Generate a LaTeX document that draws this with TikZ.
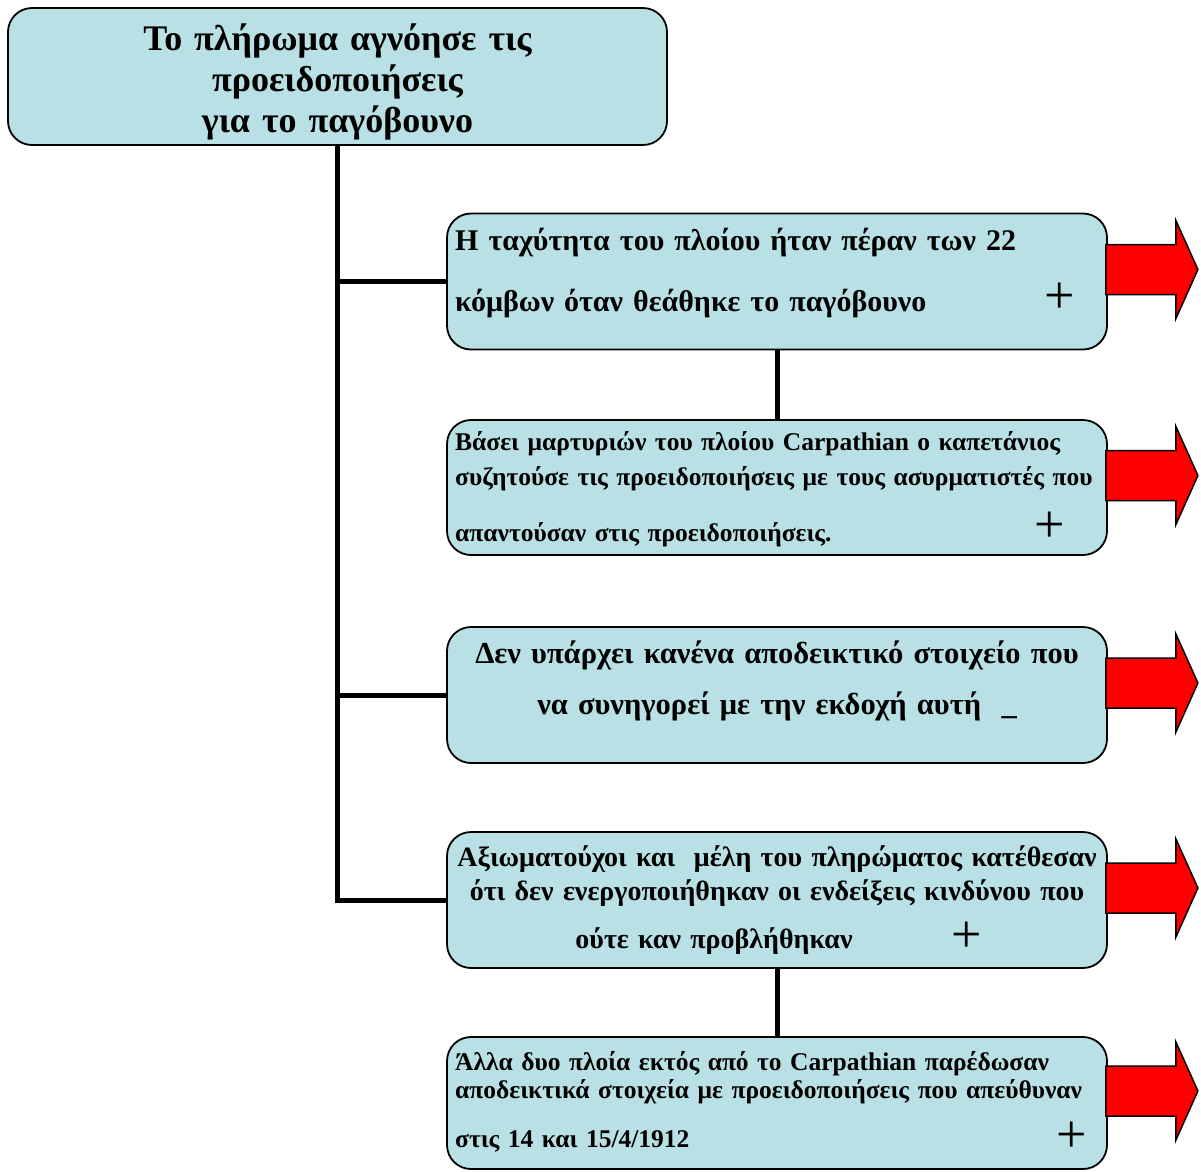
\documentclass[tikz,border=0pt]{standalone}
\usepackage{fontspec}
\setmainfont{Liberation Serif}
\usetikzlibrary{calc}
\definecolor{boxblue}{RGB}{185,224,228}

\begin{document}
\begin{tikzpicture}[x=1pt,y=-1pt,
  box/.style={draw,line width=1.8pt,rounded corners=24pt,fill=boxblue,
    minimum width=660pt,minimum height=136pt,inner sep=0pt},
  branch/.style={line width=5pt,line join=miter},
  txt/.style={inner sep=0pt,anchor=base west,text width=660pt,align=left},
  ctxt/.style={inner sep=0pt,anchor=base,text width=660pt,align=center},
  sign/.style={inner sep=0pt,font=\fontsize{54}{54}\selectfont},
  redarrow/.style={draw,fill=red,line width=1.5pt,line join=miter}]
\useasboundingbox (0,0) rectangle (1201,1171);

% boxes
\node[box,minimum width=659pt,minimum height=137pt] (top) at (337.5,76.5) {};
\node[box] (b1) at (777,281.5) {};
\node[box,minimum height=135pt] (b2) at (777,487.5) {};
\node[box] (b3) at (777,695) {};
\node[box] (b4) at (777,900) {};
\node[box,minimum height=132pt] (b5) at (777,1103) {};

% connectors
\draw[branch] (top.south) |- (b4.west);
\draw[branch] (top.south |- b1.west) -- (b1.west);
\draw[branch] (top.south |- b3.west) -- (b3.west);
\draw[branch] (b1.south) -- (b2.north);
\draw[branch] (b4.south) -- (b5.north);

% red arrows
\foreach \b in {b1,b2,b3,b4,b5}
  \draw[redarrow] ($(\b.east)+(-2,-37)$) -- ++(70,0) -- ++(0,-24)
    -- ++(22,49) -- ++(-22,49) -- ++(0,-24) -- ++(-70,0) -- cycle;

% texts
\node[ctxt,font=\bfseries\fontsize{36}{41}\selectfont] (tt) at (337.5,50)
  {Το πλήρωμα αγνόησε τις\\προειδοποιήσεις\\για το παγόβουνο};
\node[txt,font=\bfseries\fontsize{30}{34}\selectfont] (t1) at (455,250)
  {Η ταχύτητα του πλοίου ήταν πέραν των 22\\[27pt]κόμβων όταν θεάθηκε το παγόβουνο};
\node[sign] (s1) at (1060,298) {+};
\node[txt,font=\bfseries\fontsize{25.5}{35}\selectfont] (t2) at (455,450)
  {Βάσει μαρτυριών του πλοίου Carpathian ο καπετάνιος\\συζητούσε τις προειδοποιήσεις με τους ασυρματιστές που\\[21pt]απαντούσαν στις προειδοποιήσεις.};
\node[sign] (s2) at (1050,527) {+};
\node[ctxt,font=\bfseries\fontsize{30.5}{51}\selectfont] (t3) at (777,663)
  {Δεν υπάρχει κανένα αποδεικτικό στοιχείο που\\να συνηγορεί με την εκδοχή αυτή\ \ \_};
\node[ctxt,font=\bfseries\fontsize{28}{34}\selectfont] (t4) at (777,866)
  {Αξιωματούχοι και\ \ μέλη του πληρώματος κατέθεσαν\\ότι δεν ενεργοποιήθηκαν οι ενδείξεις κινδύνου που\\[14pt]ούτε καν προβλήθηκαν\hspace{126pt}\mbox{}};
\node[sign] (s4) at (967,937) {+};
\node[txt,font=\bfseries\fontsize{25.5}{28}\selectfont] (t5) at (455,1070)
  {Άλλα δυο πλοία εκτός από το Carpathian παρέδωσαν\\αποδεικτικά στοιχεία με προειδοποιήσεις που απεύθυναν\\[21pt]στις 14 και 15/4/1912};
\node[sign] (s5) at (1072,1137) {+};
\end{tikzpicture}
\end{document}
